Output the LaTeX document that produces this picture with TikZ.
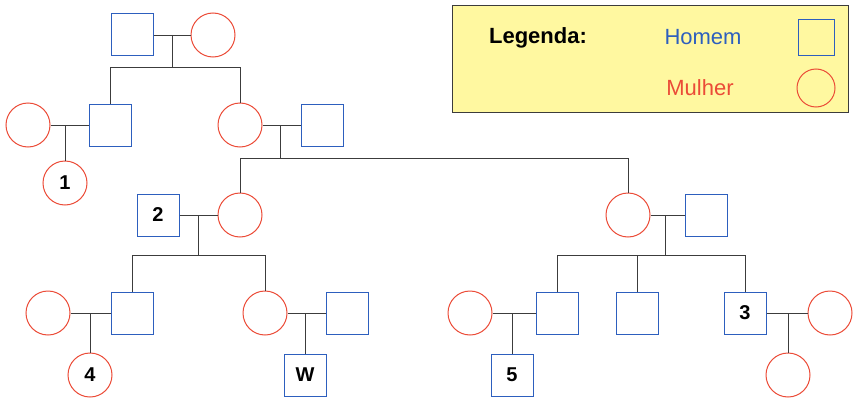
\documentclass[tikz,border=0pt]{standalone}
\usepackage{fontspec}
\setmainfont{Liberation Sans}
\definecolor{mb}{RGB}{45,95,190}
\definecolor{fr}{RGB}{235,75,55}
\definecolor{ln}{RGB}{60,60,60}
\definecolor{lg}{RGB}{255,248,160}
\begin{document}
\begin{tikzpicture}[x=1pt,y=-1pt,
  m/.style={draw=mb,line width=1pt,minimum size=42pt,inner sep=0pt,font=\fontsize{20}{20}\selectfont\bfseries},
  f/.style={draw=fr,circle,line width=1pt,minimum size=44pt,inner sep=0pt,font=\fontsize{20}{20}\selectfont\bfseries},
  l/.style={draw=ln,line width=0.8pt}]
\useasboundingbox (0,0) rectangle (861,404);
% legend
\node[draw=ln,fill=lg,line width=1pt,minimum width=396pt,minimum height=106pt,inner sep=0pt] (leg) at (650,59) {};
\node[font=\fontsize{22}{22}\selectfont\bfseries] (lt) at (538,38) {Legenda:};
\node[text=mb,font=\fontsize{22}{22}\selectfont] (lh) at (703,37) {Homem};
\node[text=fr,font=\fontsize{22}{22}\selectfont] (lm) at (700,88) {Mulher};
\node[m,minimum size=36pt] (ls) at (816,38) {};
\node[f,minimum size=38pt] (lc) at (816,88) {};
% gen1
\node[m] (a1) at (132,35) {};
\node[f] (a2) at (213,35) {};
\draw[l] (a1) -- (a2);
\coordinate (a12) at (172,35); \coordinate (a12d) at (172,67);
\draw[l] (a12) -- (a12d);
% gen2
\node[f] (b0) at (28,125) {};
\node[m] (b1) at (110,125) {};
\node[f] (b2) at (240,125) {};
\node[m] (b3) at (322,125) {};
\draw[l] (b1.north) -- (110,67) -- (240,67) -- (b2.north);
\draw[l] (b0) -- (b1);
\draw[l] (b2) -- (b3);
\node[f] (c1) at (65,183) {1};
\draw[l] (65,125) -- (c1);
% gen3
\node[m] (c2) at (158,215) {2};
\node[f] (c3) at (240,215) {};
\node[f] (c4) at (628,215) {};
\node[m] (c5) at (706,215) {};
\draw[l] (280,125) -- (280,158);
\draw[l] (c3.north) -- (240,158) -- (628,158) -- (c4.north);
\draw[l] (c2) -- (c3);
\draw[l] (c4) -- (c5);
% gen4
\node[f] (d1) at (48,313) {};
\node[m] (d2) at (132,313) {};
\node[f] (d3) at (265,313) {};
\node[m] (d4) at (347,313) {};
\node[f] (d5) at (470,313) {};
\node[m] (d6) at (557,313) {};
\node[m] (d7) at (637,313) {};
\node[m] (d8) at (745,313) {3};
\node[f] (d9) at (830,313) {};
\draw[l] (198,215) -- (198,255);
\draw[l] (d2.north) -- (132,255) -- (265,255) -- (d3.north);
\draw[l] (665,215) -- (665,255);
\draw[l] (d6.north) -- (557,255) -- (745,255) -- (d8.north);
\draw[l] (637,255) -- (d7.north);
\draw[l] (d1) -- (d2); \draw[l] (d3) -- (d4); \draw[l] (d5) -- (d6); \draw[l] (d8) -- (d9);
% gen5
\node[f] (e1) at (90,375) {4};
\node[m] (e2) at (305,375) {W};
\node[m] (e3) at (512,375) {5};
\node[f] (e4) at (788,375) {};
\draw[l] (90,313) -- (e1); \draw[l] (305,313) -- (e2);
\draw[l] (512,313) -- (e3); \draw[l] (788,313) -- (e4);
\end{tikzpicture}
\end{document}
